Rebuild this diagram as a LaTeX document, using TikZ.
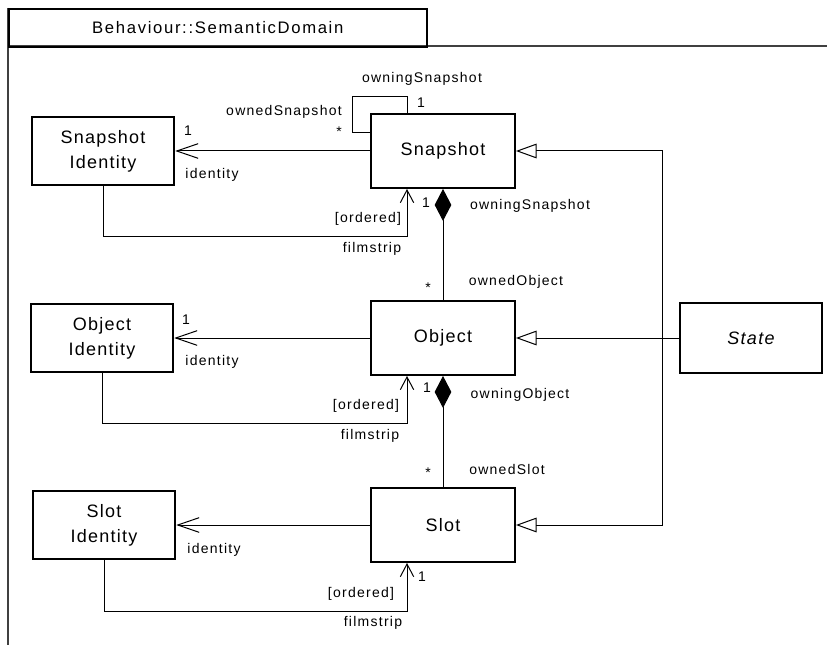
\documentclass[tikz,border=0pt]{standalone}
\usepackage{fontspec}
\setmainfont{Liberation Sans}
\newfontfamily\classfont{Liberation Sans}[LetterSpace=7]
\newfontfamily\rolefont{Liberation Sans}[LetterSpace=9]
\newfontfamily\tabfont{Liberation Sans}[LetterSpace=10]
\usetikzlibrary{
  arrows.meta,
  calc,
}

\begin{document}
\begin{tikzpicture}[
  x=0.75pt, y=-0.75pt,
  cls/.style={
    draw, line width=1.4pt, minimum width=107pt, minimum height=51pt,
    inner sep=0pt, align=center,
    font=\classfont\fontsize{13.5}{18.75}\selectfont,
  },
  mainbox/.style={
    cls, minimum width=108pt, minimum height=55.5pt,
  },
  role/.style={
    font=\rolefont\fontsize{10.5}{12}\selectfont, inner sep=0pt,
  },
  line/.style={line width=0.75pt},
  assoc/.style={line, -{Straight Barb[length=16pt,width=11pt]}},
  film/.style={line, -{Straight Barb[length=9.5pt,width=10pt]}},
  gen/.style={line, -{Triangle[open,length=15.5pt,width=11pt]}},
  comp/.style={line, {Diamond[length=24pt,width=12.5pt]}-},
]
  \useasboundingbox (0,0) rectangle (827,645);

  % Frame
  \draw[line width=0.9pt, black!75] (8,8) -- (8,645);
  \draw[line width=0.9pt, black!75] (8,46) -- (827,46);
  \node[draw, line width=1.2pt, anchor=north west, minimum width=313.5pt,
    minimum height=28.5pt, inner sep=0pt, font=\tabfont\fontsize{12.5}{14}\selectfont]
    (tab) at (8,8) {Behaviour::SemanticDomain};

  % Classes
  \node[cls] (snapid) at (103,151) {Snapshot\\Identity};
  \node[mainbox] (snap) at (443,151) {Snapshot};
  \node[cls] (objid) at (102,338) {Object\\Identity};
  \node[mainbox] (obj) at (443,338) {Object};
  \node[cls] (slotid) at (104,525) {Slot\\Identity};
  \node[mainbox] (slot) at (443,525) {Slot};
  \node[cls, minimum width=106.5pt, minimum height=52pt] (state) at (751,338) {\itshape State};

  % Identity associations
  \draw[assoc] (snap) -- (snapid);
  \draw[assoc] (obj) -- (objid);
  \draw[assoc] (slot) -- (slotid);

  % Filmstrips
  \coordinate (fs1) at (407,236);
  \coordinate (fs2) at (407,423);
  \coordinate (fs3) at (407,611);
  \draw[film] (snapid.south) |- (fs1) -- (fs1 |- snap.south);
  \draw[film] (objid.south) |- (fs2) -- (fs2 |- obj.south);
  \draw[film] (slotid.south) |- (fs3) -- (fs3 |- slot.south);

  % Snapshot self loop
  \draw[line] ($(snap.north west)+(0,19)$) -- ++(-18,0)
    |- ($(snap.north)+(-36,-17)$) -- ($(snap.north)+(-36,0)$);

  % Compositions
  \draw[comp] (snap) -- (obj);
  \draw[comp] (obj) -- (slot);

  % Generalisations
  \coordinate (gj) at (662,338);
  \draw[gen] (state) -- (obj);
  \draw[gen] (gj) |- (snap);
  \draw[gen] (gj) |- (slot);

  % Role names and multiplicities
  \node[role] (r1) at (422,79) {owningSnapshot};
  \node[role] (m1) at (421,103) {1};
  \node[role] (r2) at (284,112) {ownedSnapshot};
  \node[role] (m2) at (339,132) {*};
  \node[role] (m3) at (188,131) {1};
  \node[role] (r3) at (212,175) {identity};
  \node[role] (r4) at (368,219) {[ordered]};
  \node[role] (r5) at (372,249) {filmstrip};
  \node[role] (m4) at (426,203) {1};
  \node[role] (r6) at (530,206) {owningSnapshot};
  \node[role] (r7) at (516,282) {ownedObject};
  \node[role] (m5) at (428,288) {*};

  \node[role] (m6) at (186,320) {1};
  \node[role] (r8) at (212,362) {identity};
  \node[role] (r9) at (366,406) {[ordered]};
  \node[role] (r10) at (370,436) {filmstrip};
  \node[role] (m7) at (427,388) {1};
  \node[role] (r11) at (520,395) {owningObject};
  \node[role] (r12) at (507,469) {ownedSlot};
  \node[role] (m8) at (428,473) {*};

  \node[role] (r13) at (214,550) {identity};
  \node[role] (m9) at (422,577) {1};
  \node[role] (r14) at (361,594) {[ordered]};
  \node[role] (r15) at (373,623) {filmstrip};
\end{tikzpicture}
\end{document}
